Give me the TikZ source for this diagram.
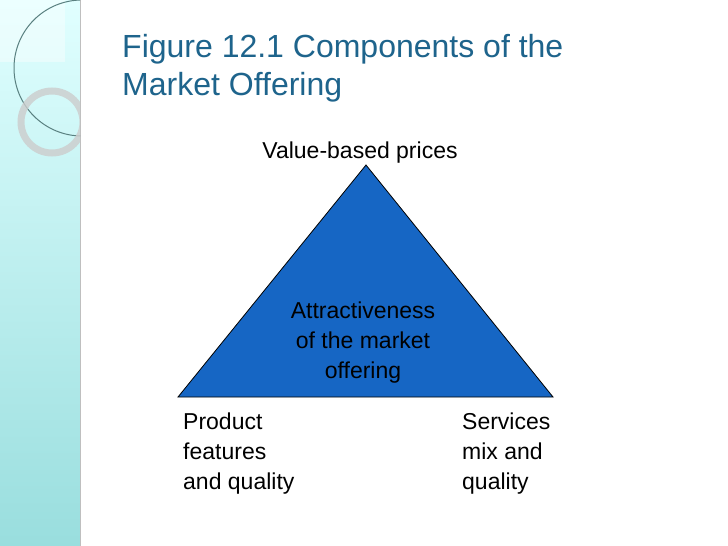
\documentclass[tikz,border=0pt]{standalone}
\usepackage{fontspec}
\setmainfont{Liberation Sans}
\definecolor{triblue}{RGB}{22,102,196}
\definecolor{titlec}{RGB}{30,100,140}
\begin{document}
\begin{tikzpicture}[x=1pt,y=-1pt,
  lbl/.style={font=\fontsize{23}{30}\selectfont, align=left, inner sep=0pt}]
\useasboundingbox (0,0) rectangle (728,546);
\fill[white] (0,0) rectangle (728,546);
\shade[top color=cyan!12, bottom color=cyan!35!teal!40] (0,0) rectangle (80,546);
\draw[gray!50, line width=0.6pt] (80,0) -- (80,546);
\begin{scope}
\clip (0,0) rectangle (80,546);
\fill[white,opacity=0.4] (0,0) rectangle (65,62);
\draw[gray!70!teal, line width=1pt] (82,68) circle (68);
\draw[gray!40, line width=7pt, opacity=0.8] (52,122) circle (31);
\end{scope}
\node[anchor=west, text=titlec, font=\fontsize{32}{38}\selectfont, align=left, inner sep=0pt] (title) at (122,68) {Figure 12.1 Components of the\\Market Offering};
\coordinate (apex) at (366,165);
\coordinate (bl) at (178,397);
\coordinate (br) at (553,397);
\filldraw[fill=triblue, draw=black, line width=0.8pt] (apex) -- (bl) -- (br) -- cycle;
\node[lbl] (top) at (360,153) {Value-based prices};
\node[lbl, align=center] (mid) at (363,343) {Attractiveness\\ of the market\\offering};
\node[lbl, anchor=north west] (pl) at (183,413) {Product\\features\\and quality};
\node[lbl, anchor=north west] (sl) at (462,413) {Services\\mix and\\quality};
\end{tikzpicture}
\end{document}
